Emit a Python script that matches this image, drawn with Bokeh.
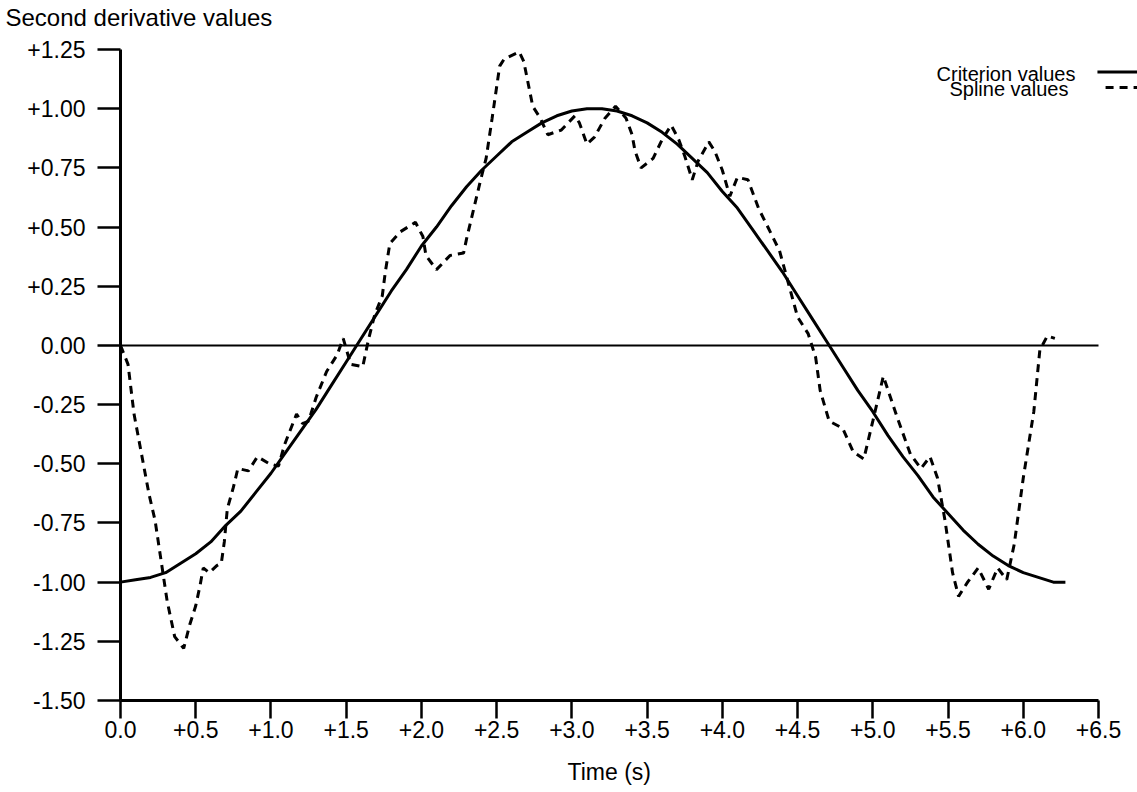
from bokeh.plotting import figure
from bokeh.models import (Range1d, FixedTicker, CustomJSTickFormatter, Label, Arrow, Title,
                          LinearAxis)
from bokeh.embed import file_html
from bokeh.resources import INLINE

# ---- data ----
criterion_t = [0.0, 0.1, 0.2, 0.3, 0.4, 0.5, 0.6, 0.7, 0.8, 0.9, 1.0, 1.1, 1.2, 1.3, 1.4, 1.5,
               1.6, 1.7, 1.8, 1.9, 2.0, 2.1, 2.2, 2.3, 2.4, 2.5, 2.6, 2.7, 2.8, 2.9, 3.0, 3.1,
               3.2, 3.3, 3.4, 3.5, 3.6, 3.7, 3.8, 3.9, 4.0, 4.1, 4.2, 4.3, 4.4, 4.5, 4.6, 4.7,
               4.8, 4.9, 5.0, 5.1, 5.2, 5.3, 5.4, 5.5, 5.6, 5.7, 5.8, 5.9, 6.0, 6.1, 6.2, 6.28]
criterion_v = [-1.00, -0.99, -0.98, -0.96, -0.92, -0.88, -0.83, -0.76, -0.70, -0.62, -0.54,
               -0.45, -0.36, -0.27, -0.17, -0.07, 0.03, 0.13, 0.23, 0.32, 0.42, 0.50, 0.59,
               0.67, 0.74, 0.80, 0.86, 0.90, 0.94, 0.97, 0.99, 1.00, 1.00, 0.99, 0.97, 0.94,
               0.90, 0.85, 0.79, 0.73, 0.65, 0.58, 0.49, 0.40, 0.31, 0.21, 0.11, 0.01, -0.09,
               -0.19, -0.28, -0.38, -0.47, -0.55, -0.64, -0.71, -0.78, -0.84, -0.89, -0.93,
               -0.96, -0.98, -1.00, -1.00]

spline_t = [0.00, 0.05, 0.09, 0.14, 0.19, 0.23, 0.27, 0.31, 0.36, 0.42, 0.46, 0.50, 0.53, 0.55,
            0.59, 0.64, 0.67, 0.69, 0.71, 0.75, 0.78, 0.85, 0.91, 0.99, 1.05, 1.09, 1.17, 1.21,
            1.25, 1.30, 1.37, 1.44, 1.48, 1.53, 1.61, 1.65, 1.69, 1.74, 1.76, 1.79, 1.86, 1.96,
            2.01, 2.03, 2.10, 2.19, 2.28, 2.30, 2.39, 2.43, 2.47, 2.52, 2.55, 2.65, 2.68, 2.74,
            2.79, 2.84, 2.93, 3.02, 3.05, 3.10, 3.15, 3.22, 3.29, 3.36, 3.40, 3.42, 3.46, 3.54,
            3.60, 3.66, 3.71, 3.75, 3.80, 3.84, 3.91, 3.95, 4.00, 4.05, 4.10, 4.17, 4.24, 4.38,
            4.44, 4.50, 4.57, 4.62, 4.65, 4.71, 4.80, 4.87, 4.94, 5.00, 5.07, 5.16, 5.25, 5.32,
            5.38, 5.43, 5.48, 5.53, 5.57, 5.63, 5.70, 5.77, 5.83, 5.89, 5.94, 6.00, 6.07, 6.11,
            6.16, 6.21]
spline_v = [0.00, -0.08, -0.29, -0.46, -0.63, -0.74, -0.91, -1.08, -1.23, -1.28, -1.18, -1.10,
            -1.01, -0.94, -0.96, -0.93, -0.92, -0.83, -0.69, -0.60, -0.52, -0.53, -0.47, -0.50,
            -0.51, -0.42, -0.29, -0.33, -0.32, -0.22, -0.11, -0.04, 0.03, -0.08, -0.09, 0.03,
            0.13, 0.21, 0.31, 0.43, 0.48, 0.52, 0.46, 0.38, 0.32, 0.38, 0.39, 0.45, 0.69, 0.79,
            0.96, 1.18, 1.21, 1.24, 1.20, 1.01, 0.96, 0.89, 0.91, 0.97, 0.94, 0.85, 0.88, 0.96,
            1.01, 0.96, 0.89, 0.82, 0.75, 0.79, 0.87, 0.93, 0.87, 0.80, 0.70, 0.78, 0.86, 0.82,
            0.74, 0.63, 0.71, 0.70, 0.58, 0.40, 0.26, 0.12, 0.05, -0.05, -0.19, -0.32, -0.35,
            -0.45, -0.48, -0.32, -0.13, -0.30, -0.46, -0.52, -0.47, -0.56, -0.74, -0.96, -1.06,
            -1.00, -0.94, -1.03, -0.94, -0.99, -0.84, -0.56, -0.28, -0.02, 0.04, 0.03]

x_ticks = [0.0, 0.5, 1.0, 1.5, 2.0, 2.5, 3.0, 3.5, 4.0, 4.5, 5.0, 5.5, 6.0, 6.5]
x_tick_labels = ["0.0", "+0.5", "+1.0", "+1.5", "+2.0", "+2.5", "+3.0", "+3.5", "+4.0",
                 "+4.5", "+5.0", "+5.5", "+6.0", "+6.5"]
y_ticks = [-1.5, -1.25, -1.0, -0.75, -0.5, -0.25, 0.0, 0.25, 0.5, 0.75, 1.0, 1.25]
y_tick_labels = ["-1.50", "-1.25", "-1.00", "-0.75", "-0.50", "-0.25", "0.00", "+0.25",
                 "+0.50", "+0.75", "+1.00", "+1.25"]

FONT = "Liberation Sans"

# frame extends to the right window edge so the legend samples fit; axis drawn only to 6.5
x_view_end = x_ticks[-1] * (1137 - 120) / (1098 - 120)

p = figure(width=1137, height=792, output_backend="svg", toolbar_location=None,
           x_range=Range1d(0, x_view_end), y_range=Range1d(y_ticks[0], y_ticks[-1]),
           min_border_left=120, min_border_right=0, min_border_top=49, min_border_bottom=92)
p.outline_line_color = None
p.xgrid.visible = False
p.ygrid.visible = False
p.background_fill_color = "white"
p.border_fill_color = "white"

xa = p.below[0]
ya = p.left[0]


def spacer_axis(height):
    # an invisible axis (no line, no tick marks, no labels) that only reserves vertical space
    return LinearAxis(ticker=FixedTicker(ticks=x_ticks), axis_line_color=None,
                      major_tick_line_color=None, minor_tick_line_color=None,
                      major_label_text_color=None, major_tick_out=height, major_tick_in=0,
                      major_label_standoff=0)


p.add_layout(spacer_axis(17), "above")

p.title.text = "Second derivative values"
p.title.align = "left"
p.title.vertical_align = "top"
p.title.offset = -115
p.title.text_font = FONT
p.title.text_font_size = "24px"
p.title.text_font_style = "normal"
p.title.text_color = "black"
p.title.standoff = 0

fmt_code = """
const i = tvals.findIndex(t => Math.abs(t - tick) < 1e-9);
return i >= 0 ? tlabels[i] : '';
"""
xa.ticker = FixedTicker(ticks=x_ticks)
xa.formatter = CustomJSTickFormatter(args=dict(tvals=x_ticks, tlabels=x_tick_labels), code=fmt_code)
xa.bounds = (x_ticks[0], x_ticks[-1])
ya.ticker = FixedTicker(ticks=y_ticks)
ya.formatter = CustomJSTickFormatter(args=dict(tvals=y_ticks, tlabels=y_tick_labels), code=fmt_code)

for ax in (xa, ya):
    ax.axis_line_width = 3
    ax.axis_line_color = "black"
    ax.major_tick_line_width = 2.5
    ax.major_tick_line_color = "black"
    ax.major_tick_in = 0
    ax.minor_tick_line_color = None
    ax.major_label_text_font = FONT
    ax.major_label_text_font_size = "23px"
    ax.major_label_text_color = "black"

xa.major_tick_out = 18
xa.major_label_standoff = 2
ya.major_tick_out = 23
ya.major_label_standoff = 12

p.add_layout(spacer_axis(16), "below")
p.add_layout(Title(text="Time (s)", align="left", offset=447, text_font=FONT,
                   text_font_size="23px", text_font_style="normal", text_color="black",
                   standoff=0), "below")

# zero reference line across the axis extent
p.line([x_ticks[0], x_ticks[-1]], [0, 0], line_color="black", line_width=2)

p.line(criterion_t, criterion_v, line_color="black", line_width=3)
p.line(spline_t, spline_v, line_color="black", line_width=3, line_dash="8 6")

# legend
p.add_layout(Label(x=6.347, y=1.145, text="Criterion values", text_font=FONT,
                   text_font_size="20px", text_baseline="middle", text_align="right",
                   text_color="black"))
p.add_layout(Label(x=6.30, y=1.082, text="Spline values", text_font=FONT,
                   text_font_size="20px", text_baseline="middle", text_align="right",
                   text_color="black"))
p.add_layout(Arrow(end=None, x_start=6.493, y_start=1.155, x_end=x_view_end, y_end=1.155,
                   line_color="black", line_width=3))
p.add_layout(Arrow(end=None, x_start=6.547, y_start=1.09, x_end=x_view_end, y_end=1.09,
                   line_color="black", line_width=3, line_dash="8 6"))

open("out.html", "w").write(file_html(p, INLINE))
